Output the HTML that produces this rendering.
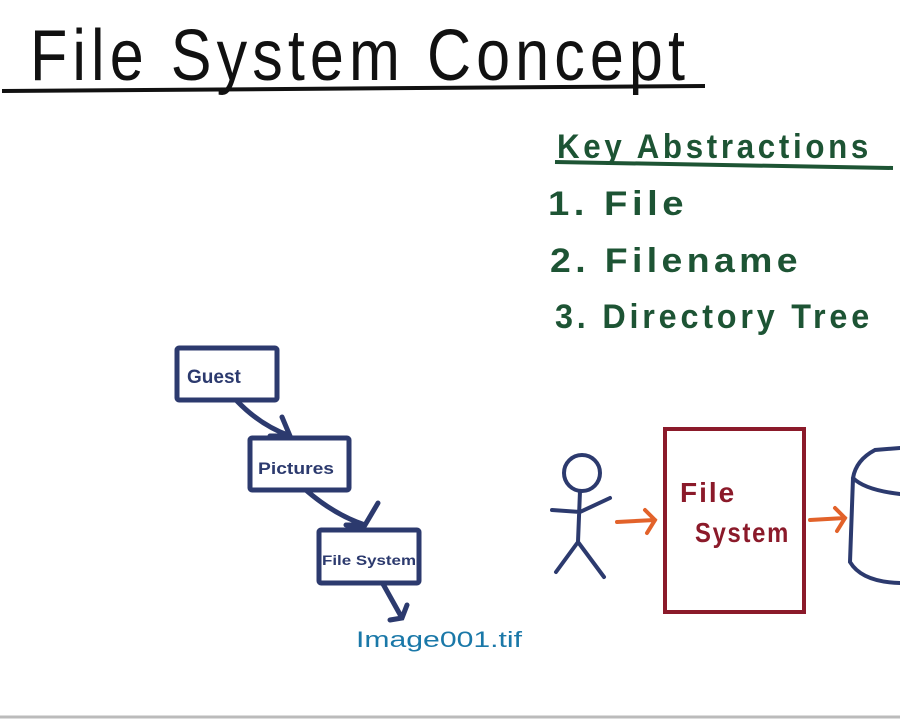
<!DOCTYPE html>
<html><head><meta charset="utf-8"><style>
html,body{margin:0;padding:0;background:#fff;width:900px;height:720px;overflow:hidden}
svg{display:block}
text{font-family:"Liberation Sans",sans-serif}
</style></head><body>
<svg width="900" height="720" viewBox="0 0 900 720" xmlns="http://www.w3.org/2000/svg">
<rect width="900" height="720" fill="#fff"/>
<text x="30" y="80" font-size="72" letter-spacing="6" fill="#111" textLength="660" lengthAdjust="spacingAndGlyphs">File System Concept</text>
<path d="M2 91 L705 86" stroke="#111" stroke-width="4" fill="none"/>
<g fill="#1d5434" font-size="34" font-weight="bold" letter-spacing="4">
<text x="557" y="158" textLength="315" lengthAdjust="spacingAndGlyphs">Key Abstractions</text>
<text x="548" y="215" textLength="140" lengthAdjust="spacingAndGlyphs">1. File</text>
<text x="550" y="272" textLength="252" lengthAdjust="spacingAndGlyphs">2. Filename</text>
<text x="555" y="328" textLength="318" lengthAdjust="spacingAndGlyphs">3. Directory Tree</text>
</g>
<path d="M555 162 L893 168" stroke="#1d5434" stroke-width="4" fill="none"/>
<g stroke="#2c3a6e" stroke-width="5" fill="none" stroke-linecap="round">
<rect x="177" y="348" width="100" height="52" rx="2"/>
<rect x="250" y="438" width="99" height="52" rx="2"/>
<rect x="319" y="530" width="100" height="53" rx="2"/>
<path d="M237 401 Q260 425 290 436 M282 417 L290 436 L270 436"/>
<path d="M307 491 Q335 515 365 525 M378 503 L365 525 L346 525"/>
<path d="M383 584 L402 618 M407 605 L402 618 L390 620"/>
</g>
<g fill="#2c3a6e" font-weight="bold">
<text x="187" y="383" font-size="19">Guest</text>
<text x="258" y="474" font-size="17" textLength="76" lengthAdjust="spacingAndGlyphs">Pictures</text>
<text x="322" y="565" font-size="14" textLength="94" lengthAdjust="spacingAndGlyphs">File System</text>
</g>
<text x="356" y="647" font-size="22" fill="#1a78a8" textLength="166" lengthAdjust="spacingAndGlyphs">Image001.tif</text>
<g stroke="#2c3a6e" stroke-width="4" fill="none" stroke-linecap="round">
<circle cx="582" cy="473" r="18"/>
<path d="M580 491 L578 542 M578 542 L556 572 M578 542 L604 577 M552 510 L580 512 L610 498"/>
<path d="M853 478 Q856 460 875 450 L900 448 M853 478 Q865 490 900 494 M853 478 L850 562 Q862 582 900 583"/>
</g>
<g stroke="#e2622a" stroke-width="4" fill="none" stroke-linecap="round">
<path d="M617 522 L655 520 M645 510 L655 520 L647 533"/>
<path d="M810 520 L845 518 M835 508 L845 518 L837 531"/>
</g>
<rect x="665" y="429" width="139" height="183" fill="none" stroke="#8b1a2a" stroke-width="4"/>
<g fill="#8b1a2a" font-size="28" font-weight="bold" letter-spacing="2">
<text x="680" y="502">File</text>
<text x="695" y="542" textLength="95" lengthAdjust="spacingAndGlyphs">System</text>
</g>
<path d="M0 717 L900 717" stroke="#bbb" stroke-width="3"/>
</svg>
</body></html>
